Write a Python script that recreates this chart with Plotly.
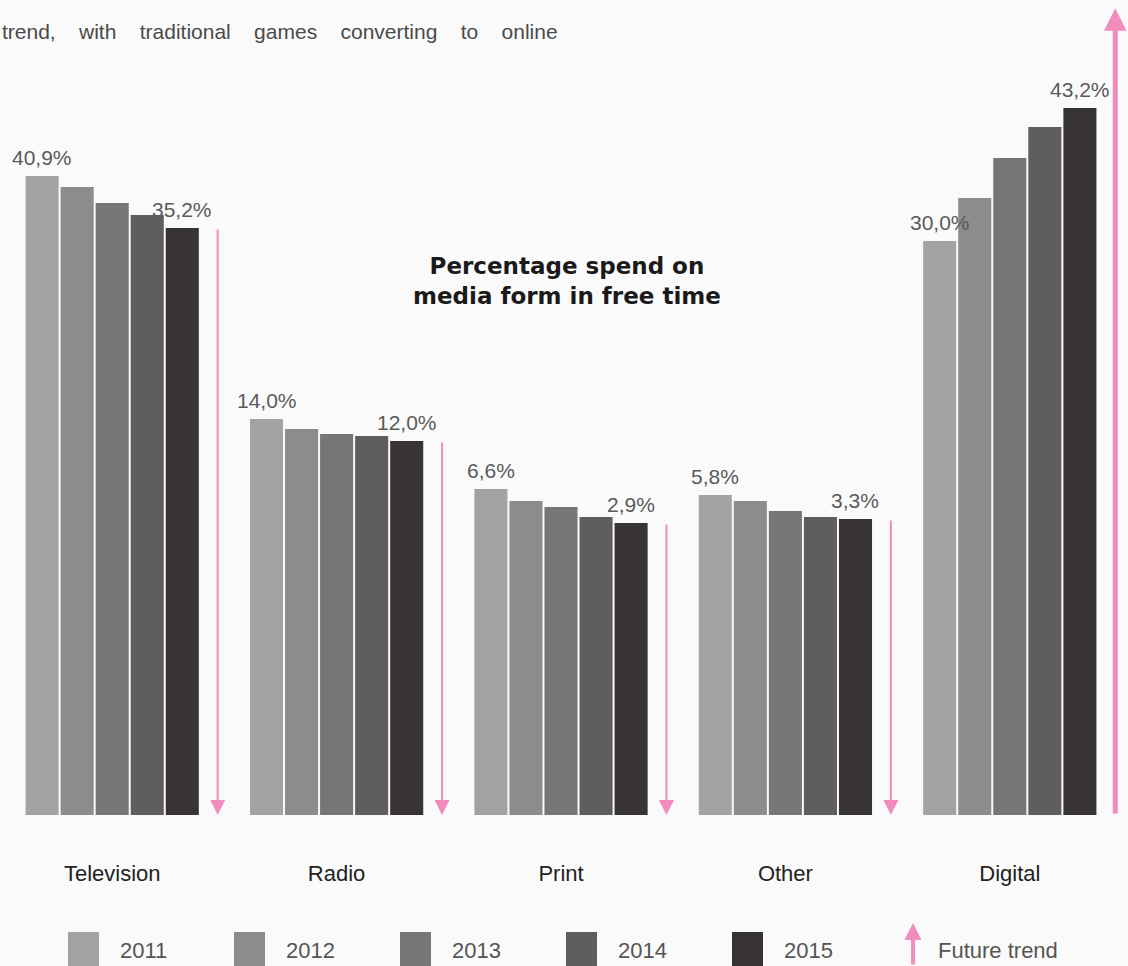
import plotly.graph_objects as go

# ---- data ----
categories = ["Television", "Radio", "Print", "Other", "Digital"]
years = ["2011", "2012", "2013", "2014", "2015"]
# drawn bar levels of the infographic (not proportional to the % labels)
level_2011 = [639, 396, 326, 320, 574]
level_2012 = [628, 386, 314, 314, 617]
level_2013 = [612, 381, 308, 304, 657]
level_2014 = [600, 379, 298, 298, 688]
level_2015 = [587, 374, 292, 296, 707]
labels_2011 = ["40,9%", "14,0%", "6,6%", "5,8%", "30,0%"]
labels_2015 = ["35,2%", "12,0%", "2,9%", "3,3%", "43,2%"]
trend = ["down", "down", "down", "down", "up"]

year_colors = ["#a3a3a3", "#8d8b8c", "#777576", "#5f5d5e", "#383435"]
PINK = "#f28cbd"
BG = "#fafafa"
FONT = "Liberation Sans, Arial, sans-serif"

W, H = 1128, 966
ML, MR, MT, MB = 0, 6, 0, 151
PW, PH = W - ML - MR, H - MT - MB
Y_TOP = 815
N_YEARS = len(years)
BAR_PITCH_PX = 35  # pixel pitch of the bars inside a group

levels = [level_2011, level_2012, level_2013, level_2014, level_2015]

fig = go.Figure()
for yr, lv, col in zip(years, levels, year_colors):
    fig.add_trace(go.Bar(
        x=categories, y=lv, name=yr, marker=dict(color=col, line=dict(width=0)),
        hoverinfo="skip", showlegend=False,
    ))


def px_x(p):
    return (p - ML) / PW


def px_y(p):
    return (H - MB - p) / PH


annotations = []
# value labels over the first and last bar of each group
for j, lab_list, lv in [(0, labels_2011, level_2011), (N_YEARS - 1, labels_2015, level_2015)]:
    for cat, lab, v in zip(categories, lab_list, lv):
        annotations.append(dict(
            x=cat, y=v, xref="x", yref="y", xshift=(j - (N_YEARS - 1) / 2) * BAR_PITCH_PX,
            yanchor="bottom", yshift=5, showarrow=False, text=lab,
            font=dict(family=FONT, size=21, color="#5a5a5a")))

# trend arrows next to each group
for i, (t, last) in enumerate(zip(trend, level_2015)):
    if t == "down":
        annotations.append(dict(
            x=i + 0.47, y=0, ax=i + 0.47, ay=last, xref="x", yref="y", axref="x", ayref="y",
            showarrow=True, arrowhead=2, arrowsize=1.5, arrowwidth=2, arrowcolor=PINK,
            text="", standoff=0))
    else:
        annotations.append(dict(
            x=i + 0.47, y=Y_TOP * 0.99, ax=i + 0.47, ay=0, xref="x", yref="y", axref="x", ayref="y",
            showarrow=True, arrowhead=2, arrowsize=0.9, arrowwidth=5, arrowcolor=PINK,
            text="", standoff=0))

# chart title
annotations.append(dict(
    x=px_x(567), y=px_y(281), xref="paper", yref="paper", showarrow=False,
    text="Percentage spend on<br>media form in free time", align="center",
    font=dict(family="DejaVu Sans, sans-serif", size=23, color="#1a1a1a", weight="bold")))

# top sentence fragment
sp = "\u00a0\u00a0\u00a0 "
annotations.append(dict(
    x=px_x(0), y=px_y(32), xref="paper", yref="paper", xanchor="left", yanchor="middle",
    showarrow=False,
    text=sp.join(["trend,", "with", "traditional", "games", "converting", "to", "online"]),
    font=dict(family=FONT, size=21, color="#4a4a4a")))

# legend (manual, large swatches)
shapes = []
for i, (yr, col) in enumerate(zip(years, year_colors)):
    x0 = 68 + 166 * i
    shapes.append(dict(type="rect", xref="paper", yref="paper",
                       x0=px_x(x0), x1=px_x(x0 + 31), y0=px_y(966), y1=px_y(932),
                       fillcolor=col, line=dict(width=0)))
    annotations.append(dict(
        x=px_x(x0 + 50), y=px_y(950), xref="paper", yref="paper", xanchor="left",
        yanchor="middle", showarrow=False, text=yr,
        font=dict(family=FONT, size=22, color="#555555")))

annotations.append(dict(
    x=px_x(913), y=px_y(923), ax=0, ay=45, xref="paper", yref="paper",
    axref="pixel", ayref="pixel", showarrow=True, arrowhead=2, arrowsize=0.85,
    arrowwidth=4, arrowcolor=PINK, text="", standoff=0))
annotations.append(dict(
    x=px_x(936), y=px_y(950), xref="paper", yref="paper", xanchor="left",
    yanchor="middle", showarrow=False, text="Future trend",
    font=dict(family=FONT, size=22, color="#555555")))

fig.update_layout(
    width=W, height=H,
    margin=dict(l=ML, r=MR, t=MT, b=MB, pad=0),
    paper_bgcolor=BG, plot_bgcolor=BG,
    barmode="group", bargap=0.219, bargroupgap=0.057,
    showlegend=False,
    annotations=annotations, shapes=shapes,
    xaxis=dict(range=[-0.5, 4.5], showgrid=False, zeroline=False, showline=False,
               ticks="", ticklabelstandoff=43,
               tickfont=dict(family=FONT, size=22, color="#222222")),
    yaxis=dict(range=[0, Y_TOP], visible=False, showgrid=False, zeroline=False),
)

fig.write_html(
    "out.html",
    config={"displayModeBar": False, "staticPlot": True},
    post_script="document.body.style.margin='0';document.body.style.padding='0';"
                "document.body.style.overflow='hidden';document.body.style.background='%s';" % BG,
)
